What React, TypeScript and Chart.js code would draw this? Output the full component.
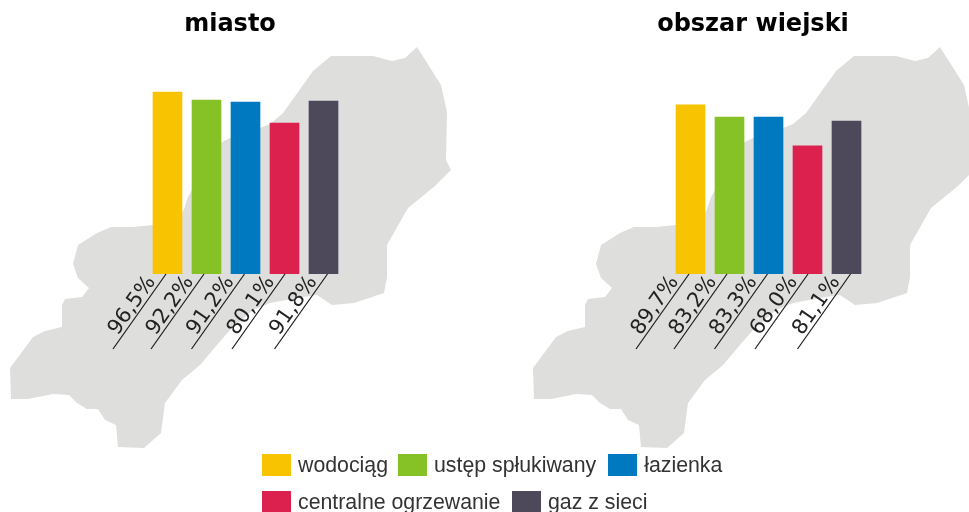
import React, { useEffect, useRef } from "react";
import { Chart, registerables } from "chart.js";

Chart.register(...registerables);

const categories = ["wodociąg", "ustęp spłukiwany", "łazienka", "centralne ogrzewanie", "gaz z sieci"];
const colors = ["#F8C300", "#86C226", "#0079C1", "#DC214F", "#4E485B"];
const miastoValues = [96.5, 92.2, 91.2, 80.1, 91.8];
const wiejskiValues = [89.7, 83.2, 83.3, 68.0, 81.1];
const miastoLabels = ["96,5%", "92,2%", "91,2%", "80,1%", "91,8%"];
const wiejskiLabels = ["89,7%", "83,2%", "83,3%", "68,0%", "81,1%"];

// Small per-tick nudge of the slanted labels and leader lines, which are spaced wider than the bars.
const tickNudge = [0, -1, 0.5, 2, 5.5];
const legendGaps = [10, 12, 0, 11.5, 0];

// Decorative background silhouette (region map), in canvas pixels.
const mapOutline: [number, number][] = [
  [417, 47], [441, 85], [447, 112], [446, 160], [451, 170], [435, 186], [408, 208], [387, 245],
  [387, 277], [384, 293], [354, 303], [332, 305], [317, 295], [303, 297], [270, 303], [253, 310],
  [230, 330], [217, 345], [200, 365], [182, 380], [165, 403], [161, 433], [144, 448], [118, 447],
  [116, 425], [105, 420], [98, 409], [87, 409], [77, 403], [69, 395], [53, 394], [28, 399],
  [11, 399], [10, 368], [33, 337], [45, 331], [62, 327], [62, 305], [65, 299], [82, 297],
  [89, 288], [78, 278], [73, 264], [78, 245], [97, 233], [111, 227], [133, 227], [153, 225],
  [183, 212], [188, 197], [220, 143], [230, 138], [260, 128], [270, 124], [283, 113], [313, 71],
  [331, 56], [373, 56], [392, 61], [405, 58],
];

const decorPlugin = {
  id: "decor",
  beforeDraw(chart: any) {
    const { ctx } = chart;
    ctx.save();
    ctx.fillStyle = "#DEDEDD";
    ctx.beginPath();
    mapOutline.forEach(([x, y], i) => (i ? ctx.lineTo(x, y) : ctx.moveTo(x, y)));
    ctx.closePath();
    ctx.fill();
    ctx.restore();
  },
  afterDraw(chart: any) {
    const { ctx, scales } = chart;
    const base = scales.x.top;
    ctx.save();
    ctx.strokeStyle = "#1A1A1A";
    ctx.lineWidth = 1.2;
    scales.x.ticks.forEach((_: any, i: number) => {
      const x = scales.x.getPixelForTick(i) - 1.5;
      ctx.beginPath();
      ctx.moveTo(x, base);
      ctx.lineTo(x - 53, base + 75);
      ctx.stroke();
    });
    ctx.restore();
  },
};

function Panel({ title, values, labels, left }: { title: string; values: number[]; labels: string[]; left: number }) {
  const ref = useRef<HTMLCanvasElement>(null);
  useEffect(() => {
    const chart = new Chart(ref.current!, {
      type: "bar",
      data: {
        labels,
        datasets: [{ data: values, backgroundColor: colors, barThickness: 29, borderWidth: 0 }],
      },
      options: {
        animation: false,
        responsive: false,
        layout: { padding: 0 },
        plugins: {
          legend: { display: false },
          tooltip: { enabled: false },
          title: {
            display: true,
            text: title,
            color: "#000000",
            font: { family: "'DejaVu Sans'", size: 24, weight: "bold", lineHeight: 1.2 },
            padding: { top: 10, bottom: 46.7 },
          },
        },
        scales: {
          x: {
            grid: { display: false },
            border: { display: false },
            ticks: {
              autoSkip: false,
              minRotation: 55,
              maxRotation: 55,
              padding: -11,
              labelOffset: -16,
              color: "#222222",
              font: { family: "'DejaVu Sans'", size: 21 },
            },
            afterBuildTicks(scale: any) {
              if (!scale.__nudged) {
                const tickPixel = scale.getPixelForTick.bind(scale);
                scale.getPixelForTick = (i: number) => tickPixel(i) + tickNudge[i];
                scale.__nudged = true;
              }
            },
            afterFit(scale: any) {
              scale.height = 186;
            },
          },
          y: {
            min: 0,
            max: 100,
            grid: { display: false },
            border: { display: false },
            ticks: { display: false },
            afterFit(scale: any) {
              scale.width = 148;
            },
          },
          y2: {
            position: "right",
            grid: { display: false },
            border: { display: false },
            ticks: { display: false },
            afterFit(scale: any) {
              scale.width = 117;
            },
          },
        },
      } as any,
      plugins: [decorPlugin],
    });
    return () => chart.destroy();
  }, []);
  return <canvas ref={ref} width={460} height={460} style={{ position: "absolute", left, top: 0, width: 460, height: 460 }} />;
}

const legendRows = [[0, 1, 2], [3, 4]];

export default function App() {
  return (
    <div style={{ position: "absolute", left: 0, top: 0, width: 969, height: 512, overflow: "hidden", background: "#fff" }}>
      <Panel title="miasto" values={miastoValues} labels={miastoLabels} left={0} />
      <Panel title="obszar wiejski" values={wiejskiValues} labels={wiejskiLabels} left={523} />
      {legendRows.map((row, r) => (
        <div
          key={r}
          style={{ position: "absolute", left: 262, top: 454 + r * 37, display: "flex", alignItems: "center", height: 22, whiteSpace: "nowrap" }}
        >
          {row.map((i) => (
            <React.Fragment key={i}>
              <span style={{ width: 29, height: 22, background: colors[i], marginRight: 7, flex: "none" }} />
              <span style={{ font: "21.3px 'Liberation Sans'", color: "#333333", marginRight: legendGaps[i] }}>{categories[i]}</span>
            </React.Fragment>
          ))}
        </div>
      ))}
    </div>
  );
}
